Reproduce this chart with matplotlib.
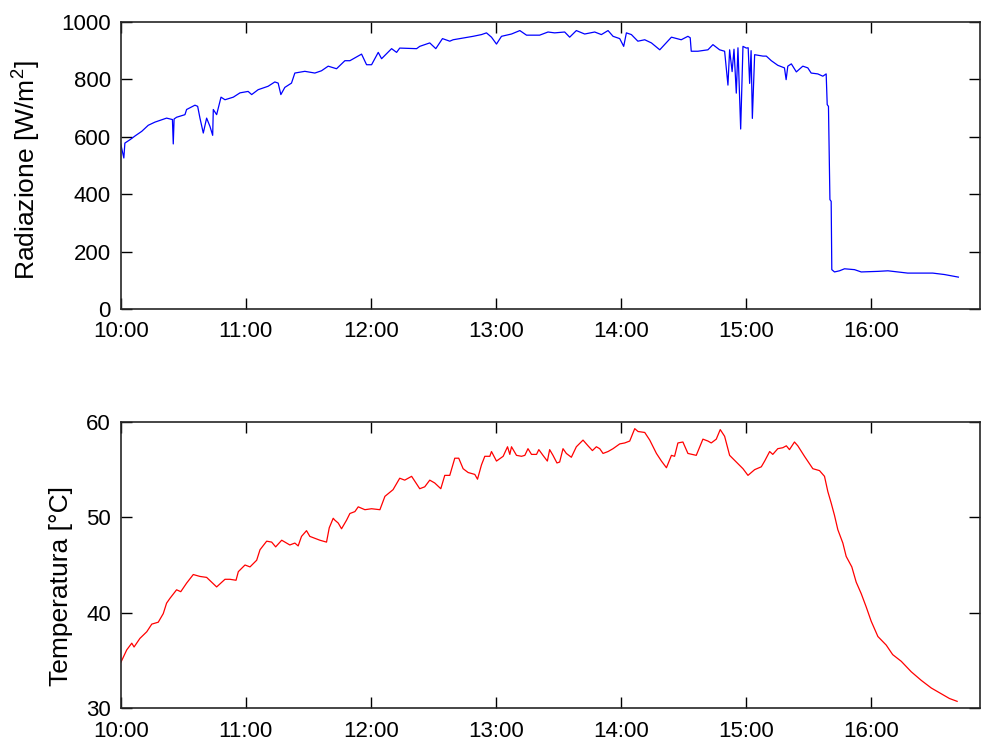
import matplotlib
matplotlib.use("Agg")
import matplotlib.pyplot as plt
import matplotlib.dates as mdates
import pandas as pd

plt.rcParams['font.family'] = ['Liberation Sans', 'DejaVu Sans']
plt.rcParams['mathtext.fontset'] = 'custom'
plt.rcParams['mathtext.rm'] = 'Liberation Sans'
plt.rcParams['mathtext.default'] = 'regular'

# Solar radiation, minutes after 10:00 and W/m^2
rad_minutes = [0.0, 1.5, 2.0, 4.5, 6.9, 10.1, 13.2, 16.4, 22.0, 24.8, 25.2, 25.6, 26.8,
               30.8, 31.6, 35.6, 36.9, 38.0, 39.6, 41.2, 42.8, 44.1, 44.4, 46.0, 48.1,
               50.0, 54.0, 57.2, 61.1, 62.8, 65.9, 70.7, 73.9, 75.5, 76.8, 78.7, 81.9,
               83.5, 88.3, 93.1, 96.3, 99.5, 103.5, 107.5, 109.9, 115.5, 117.9, 120.3,
               123.5, 125.1, 129.9, 132.3, 133.8, 141.9, 143.4, 148.2, 151.1, 154.3,
               157.8, 159.4, 164.2, 169.0, 173.0, 175.4, 177.8, 180.2, 182.6, 187.4,
               191.4, 194.6, 200.9, 204.9, 208.1, 212.9, 215.3, 218.5, 222.5, 227.3,
               230.5, 233.7, 236.1, 239.3, 241.2, 242.5, 244.9, 248.0, 251.3, 254.5,
               258.5, 260.8, 264.1, 268.8, 272.0, 273.1, 273.6, 276.8, 281.6, 284.0,
               287.2, 289.6, 291.2, 292.0, 293.2, 294.1, 295.2, 296.0, 297.3, 298.4,
               300.0, 300.9, 301.6, 302.3, 302.9, 304.0, 308.0, 309.6, 312.0, 315.1,
               318.3, 319.1, 319.9, 321.6, 324.0, 327.1, 329.5, 331.1, 334.3, 336.7,
               338.3, 338.8, 339.4, 340.1, 340.7, 341.0, 342.3, 344.7, 347.1, 351.9,
               355.1, 363.1, 367.9, 377.4, 389.4, 395.0, 401.7]
rad_values = [575, 526, 578, 590, 603, 619, 640, 651, 665, 660, 575, 662, 668,
              677, 695, 710, 706, 665, 613, 665, 636, 605, 695, 677, 738,
              729, 738, 753, 758, 747, 764, 776, 791, 787, 747, 772, 787,
              822, 828, 822, 830, 846, 837, 865, 865, 888, 851, 851,
              894, 872, 907, 894, 909, 907, 915, 927, 907, 942,
              933, 938, 944, 950, 956, 962, 947, 923, 950, 958,
              970, 954, 954, 965, 962, 965, 947, 970, 958, 965,
              956, 970, 950, 942, 915, 962, 956, 933, 938, 927,
              903, 921, 947, 938, 950, 945, 898, 898, 903, 921,
              903, 898, 780, 903, 827, 905, 752, 910, 627, 915,
              909, 910, 786, 900, 664, 886, 881, 881, 865, 849,
              840, 799, 846, 854, 826, 846, 840, 822, 819, 811,
              819, 712, 706, 381, 375, 137, 129, 133, 140, 137,
              129, 131, 133, 125, 125, 120, 111]

# Module temperature, minutes after 10:00 and degrees Celsius
temp_minutes = [0.1, 2.9, 5.3, 6.4, 9.2, 12.5, 14.9, 18.0, 20.4, 22.0, 23.6, 26.8,
                28.8, 31.6, 34.8, 38.0, 41.2, 46.0, 50.0, 52.4, 55.3, 56.4, 59.6,
                62.0, 65.2, 66.8, 70.0, 72.4, 74.3, 77.2, 81.1, 83.5, 85.1, 86.7,
                89.1, 90.7, 95.5, 98.7, 100.0, 101.9, 102.7, 104.3, 105.9, 108.3,
                109.9, 112.3, 113.9, 117.1, 120.3, 124.3, 126.7, 130.6, 133.8, 136.2,
                139.5, 143.4, 145.8, 148.2, 150.6, 153.5, 155.4, 157.8, 160.2, 162.1,
                164.2, 166.6, 169.8, 171.1, 173.0, 174.6, 177.0, 177.8, 180.2, 183.4,
                185.5, 186.6, 187.4, 189.8, 192.2, 193.8, 195.3, 197.0, 199.4, 200.5,
                202.5, 204.6, 205.7, 207.3, 209.2, 210.5, 212.1, 213.7, 216.1, 218.5,
                221.7, 224.1, 226.2, 228.1, 229.7, 231.3, 233.7, 236.1, 239.3, 241.7,
                244.1, 246.5, 248.1, 251.3, 253.7, 256.9, 259.3, 261.7, 264.1, 265.6,
                267.2, 269.6, 272.0, 276.0, 279.2, 281.6, 283.2, 285.6, 287.5, 289.6,
                292.0, 295.2, 298.4, 300.8, 304.0, 307.2, 308.8, 311.2, 312.7, 315.1,
                317.5, 319.2, 320.7, 323.1, 324.7, 327.9, 331.9, 335.1, 337.5, 339.1,
                340.7, 342.3, 343.9, 346.3, 347.9, 350.6, 352.7, 355.1, 357.5, 359.9,
                363.1, 367.1, 370.2, 374.3, 379.1, 383.9, 388.7, 393.5, 397.4, 401.1]
temp_values = [34.8, 36.1, 36.8, 36.4, 37.3, 38.0, 38.8, 39.0, 39.9, 41.0, 41.5, 42.4,
               42.2, 43.1, 44.0, 43.8, 43.7, 42.7, 43.5, 43.5, 43.4, 44.3, 45.0,
               44.8, 45.5, 46.6, 47.5, 47.4, 46.9, 47.6, 47.1, 47.3, 47.0, 48.0,
               48.6, 48.0, 47.6, 47.4, 48.9, 49.9, 49.7, 49.4, 48.8, 49.7,
               50.4, 50.6, 51.1, 50.8, 50.9, 50.8, 52.2, 52.9, 54.1, 53.9,
               54.3, 53.0, 53.2, 53.9, 53.6, 53.0, 54.4, 54.4, 56.2, 56.2,
               55.1, 54.7, 54.5, 54.0, 55.5, 56.4, 56.4, 56.9, 55.9, 56.4,
               57.4, 56.6, 57.4, 56.5, 56.4, 56.5, 57.2, 56.6, 56.6, 57.1,
               56.5, 55.9, 57.1, 56.5, 55.7, 55.8, 57.2, 56.7, 56.3, 57.4,
               58.1, 57.5, 57.0, 57.4, 57.2, 56.7, 56.9, 57.2, 57.7, 57.8,
               58.0, 59.3, 59.0, 58.9, 58.1, 56.7, 55.9, 55.2, 56.5, 56.4,
               57.8, 57.9, 56.7, 56.5, 58.2, 58.0, 57.8, 58.2, 59.2, 58.5,
               56.5, 55.8, 55.1, 54.4, 55.0, 55.3, 55.9, 56.9, 56.6, 57.2,
               57.3, 57.5, 57.1, 57.9, 57.5, 56.4, 55.1, 54.9, 54.3, 52.7,
               51.5, 50.2, 48.7, 47.3, 45.9, 44.8, 43.2, 42.0, 40.6, 39.1,
               37.5, 36.6, 35.6, 34.9, 33.8, 32.9, 32.1, 31.5, 31.0, 30.7]

rad_yticks = [0, 200, 400, 600, 800, 1000]
temp_yticks = [30, 40, 50, 60]

start = pd.Timestamp("2013-07-15 10:00")
rad_t = start + pd.to_timedelta(rad_minutes, unit="m")
temp_t = start + pd.to_timedelta(temp_minutes, unit="m")
x_end = start + pd.Timedelta(minutes=412)

fig = plt.figure(figsize=(9.83, 7.42), dpi=100)
ax1 = fig.add_axes([0.1228, 0.5836, 0.874, 0.3868])
ax2 = fig.add_axes([0.1228, 0.0458, 0.874, 0.3855])

ax1.plot(rad_t, rad_values, color="#0000ff", lw=0.9)
ax2.plot(temp_t, temp_values, color="#ff0000", lw=0.9)

for ax, yticks, label, lx, ly in [(ax1, rad_yticks, "Radiazione [W/m$^2$]", -0.090, 0.484),
                                  (ax2, temp_yticks, "Temperatura [°C]", -0.056, 0.425)]:
    ax.set_xlim(start, x_end)
    ax.set_ylim(yticks[0], yticks[-1])
    ax.set_yticks(yticks)
    ax.xaxis.set_major_locator(mdates.HourLocator())
    ax.xaxis.set_major_formatter(mdates.DateFormatter("%H:%M"))
    ax.tick_params(direction="in", length=8, width=1, top=True, right=True,
                   labelsize=16, colors="black")
    ax.tick_params(axis="y", pad=7)
    ax.tick_params(axis="x", pad=9)
    for s in ax.spines.values():
        s.set_linewidth(1.2)
        s.set_color("#262626")
    ax.set_ylabel(label, fontsize=19)
    ax.yaxis.set_label_coords(lx, ly)

fig.savefig("out.png", dpi=100, facecolor="white")
